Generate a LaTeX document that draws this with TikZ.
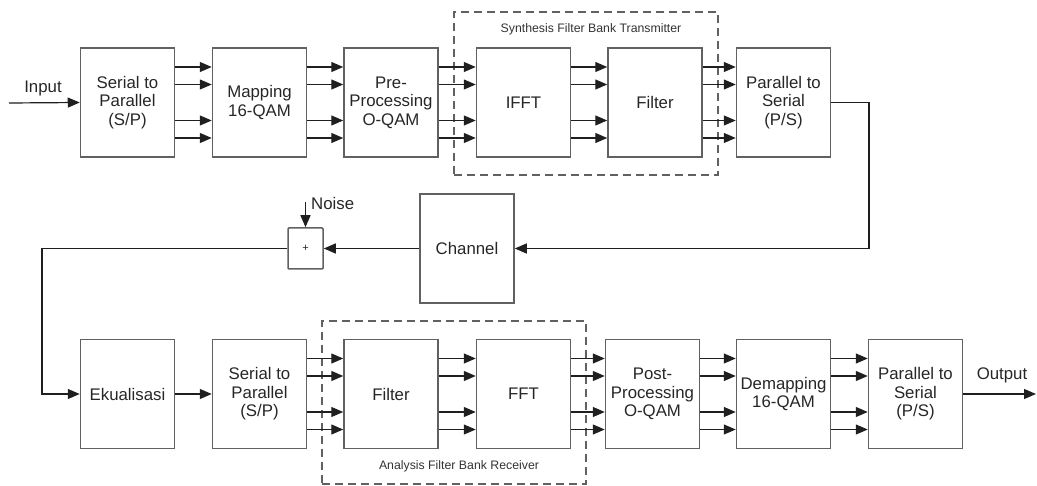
\documentclass[tikz,border=0pt]{standalone}
\usepackage{fontspec}
\setmainfont{Liberation Sans}
\usetikzlibrary{arrows.meta}
\tikzset{
  blk/.style={draw=black!62, line width=1.5pt, minimum width=94pt, minimum height=109pt,
    align=center, inner sep=0pt, text=black!85, font=\fontsize{16.8}{18.5}\selectfont},
  arr/.style={draw=black!88, line width=1.2pt, -{Triangle[length=12pt,width=10pt]}},
  dbox/.style={draw=black!62, line width=1.3pt, dash pattern=on 8pt off 5pt,
    minimum width=264pt, minimum height=163pt, inner sep=0pt},
  lbl/.style={text=black!85, inner sep=0pt, font=\fontsize{16.8}{18.5}\selectfont},
  slbl/.style={text=black!80, inner sep=0pt, font=\fontsize{12.3}{13}\selectfont}
}
\newcommand\fourarr[2]{%
  \foreach \s in {35.5,18,-18,-35.5}
    \draw[arr] ([yshift=\s pt]#1.east) -- ([yshift=\s pt]#2.west);}
\begin{document}
\begin{tikzpicture}[x=1pt,y=-1pt]
\useasboundingbox (0,0) rectangle (1037,486);
% dashed groups
\node[dbox] (syn) at (586,93.5) {};
\node[dbox] (ana) at (454,402.5) {};
\node[slbl] (synl) at (591,29) {Synthesis Filter Bank Transmitter};
\node[slbl] (anal) at (459,466) {Analysis Filter Bank Receiver};
% top row
\node[blk] (sp1) at (127.5,102.5) {Serial to\\Parallel\\(S/P)};
\node[blk] (map) at (259.5,102.5) {Mapping\\16-QAM};
\node[blk] (pre) at (391,102.5) {Pre-\\Processing\\O-QAM};
\node[blk,fill=white] (ifft) at (523.5,102.5) {IFFT};
\node[blk,fill=white] (flt1) at (655,102.5) {Filter};
\node[blk] (ps1) at (783.5,102.5) {Parallel to\\Serial\\(P/S)};
% middle
\node[blk] (ch) at (467,248.5) {Channel};
\node[draw=black!62, line width=1.5pt, rounded corners=1pt, minimum width=35pt, minimum height=41pt,
  inner sep=0pt, text=black!85, font=\fontsize{11}{11}\selectfont] (plus) at (305.5,248.5) {+};
% bottom row
\node[blk] (ek) at (127.5,394) {Ekualisasi};
\node[blk] (sp2) at (259.5,394) {Serial to\\Parallel\\(S/P)};
\node[blk,fill=white] (flt2) at (391,394) {Filter};
\node[blk,fill=white] (fft) at (523.5,394) {FFT};
\node[blk] (post) at (652.5,394) {Post-\\Processing\\O-QAM};
\node[blk] (dem) at (783.5,394) {Demapping\\16-QAM};
\node[blk] (ps2) at (915.5,394) {Parallel to\\Serial\\(P/S)};
% labels and free ends
\node[lbl] (inl) at (43,88) {Input};
\node[lbl] (outl) at (1002,375) {Output};
\node[lbl,anchor=west] (noisel) at (311,203) {Noise};
\coordinate (in) at (9,103);
\coordinate (out) at (1036,394);
\coordinate (noise) at (305.5,202);
\coordinate (rc) at (869,248.5);
\coordinate (lc) at (42,248.5);
% connectors top
\draw[arr] (in) -- (sp1.west);
\fourarr{sp1}{map}
\fourarr{map}{pre}
\fourarr{pre}{ifft}
\fourarr{ifft}{flt1}
\fourarr{flt1}{ps1}
\draw[arr] (ps1.east) -| (rc) -- (ch.east);
\draw[arr] (ch.west) -- (plus.east);
\draw[arr] (noise) -- (plus.north);
\draw[arr] (plus.west) -- (lc) |- (ek.west);
% connectors bottom
\draw[arr] (ek.east) -- (sp2.west);
\fourarr{sp2}{flt2}
\fourarr{flt2}{fft}
\fourarr{fft}{post}
\fourarr{post}{dem}
\fourarr{dem}{ps2}
\draw[arr] (ps2.east) -- (out);
\end{tikzpicture}
\end{document}
